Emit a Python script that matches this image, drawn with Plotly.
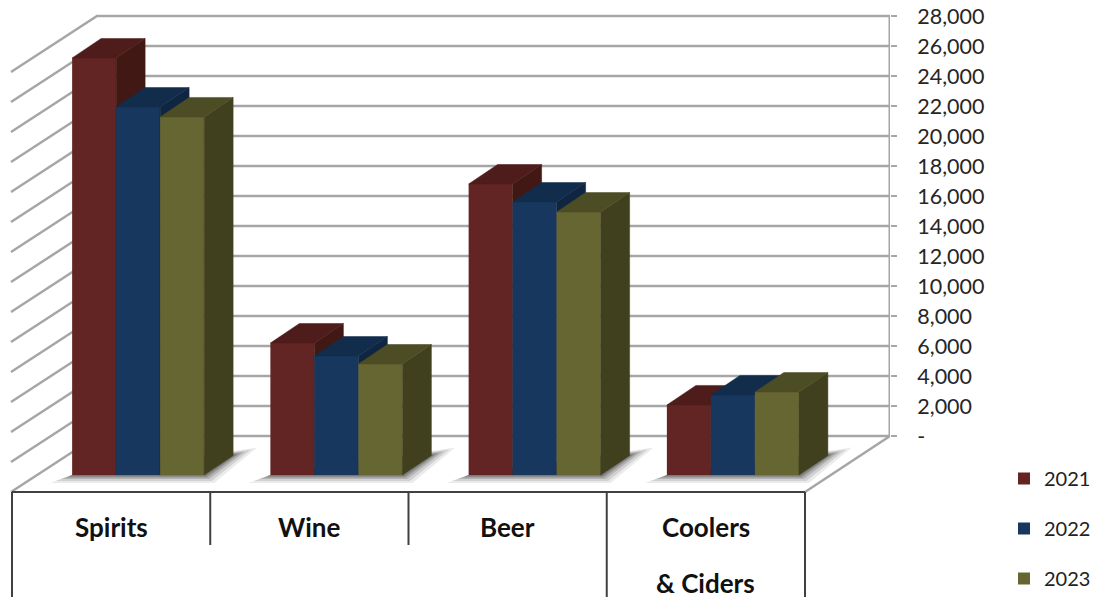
import plotly.graph_objects as go

# ---- data ----
categories = ["Spirits", "Wine", "Beer", "Coolers"]
category_line2 = ["", "", "", "& Ciders"]
series_names = ["2021", "2022", "2023"]
values_2021 = [27800, 8800, 19400, 4670]
values_2022 = [24530, 7930, 18200, 5330]
values_2023 = [23870, 7400, 17530, 5530]
tick_values = list(range(0, 28001, 2000))
tick_labels = ["-"] + [f"{v:,}" for v in tick_values[1:]]

front_colors = ["#632523", "#17375E", "#666633"]
side_colors = ["#421814", "#0F2541", "#40401F"]
top_colors = ["#4E1C1A", "#122C4C", "#4C4C25"]

# ---- geometry of the oblique projection (pixels per unit) ----
W, H = 1096, 598
PX_X = 198.25          # pixels per category
PX_Y = 15 / 1000       # pixels per value unit
X0_PX, WALL_PX, Y0_PX = 12, 890, 436


def dxu(p):
    return p / PX_X


def dyu(p):
    return p / PX_Y


x_range = [-X0_PX / PX_X, (WALL_PX - X0_PX) / PX_X]
y_range = [-(H - Y0_PX) / PX_Y, Y0_PX / PX_Y]

wall_dx, wall_dy = dxu(85), dyu(56)
floor_front = -dyu(56)
table_bottom = -dyu(161)
sep_bottom = -dyu(109)
bar_shift, bar_base = dxu(27), -dyu(39)
bar_w = dxu(44)
depth_x, depth_y = dxu(29), dyu(19.5)
n_cat = len(categories)

fig = go.Figure()
grid = dict(color="#A6A6A6", width=2.5)


def poly(points):
    xs, ys = [], []
    for pts in points:
        xs += [p[0] for p in pts] + [pts[0][0], None]
        ys += [p[1] for p in pts] + [pts[0][1], None]
    return xs, ys


def line(xs, ys, ln, xa="x", ya="y"):
    fig.add_trace(go.Scatter(x=xs, y=ys, mode="lines", line=ln, xaxis=xa, yaxis=ya,
                             showlegend=False, hoverinfo="skip", cliponaxis=False))


# back and side walls
gx, gy = [], []
for v in tick_values:
    gx += [x_range[1], wall_dx, 0 - dxu(1), None]
    gy += [v, v, v - wall_dy, None]
line(gx, gy, grid)
line([x_range[1], x_range[1]], [0, 28000], dict(color="#A6A6A6", width=3))
line([x_range[1], n_cat], [0, floor_front], grid)

# shadows on the floor
for grow, alpha in [(20, 0.10), (15, 0.14), (10, 0.20), (6, 0.26), (3, 0.30)]:
    shapes = []
    for c in range(n_cat):
        xl = c + 0.5 + bar_shift - 1.5 * bar_w
        xr = c + 0.5 + bar_shift + 1.5 * bar_w
        shapes.append([
            (xl - dxu(grow * 1.1), bar_base - dyu(grow * 0.4)),
            (xr + dxu(grow * 0.5), bar_base - dyu(grow * 0.4)),
            (xr + depth_x + dxu(grow * 1.2), bar_base + depth_y + dyu(grow * 0.4)),
            (xr, bar_base + depth_y),
            (xl, bar_base),
        ])
    xs, ys = poly(shapes)
    fig.add_trace(go.Scatter(x=xs, y=ys, mode="lines", fill="toself", line=dict(width=0),
                             fillcolor=f"rgba(60,60,60,{alpha})", showlegend=False,
                             hoverinfo="skip"))

# category table under the floor
table = dict(color="#404040", width=2)
line([0, n_cat], [floor_front, floor_front], table)
for c in range(n_cat + 1):
    bottom = table_bottom if c in (0, 3, 4) else sep_bottom
    line([c, c], [floor_front, bottom], table)

# bars: each series lives on its own overlay so it stacks over the previous one
all_values = [values_2021, values_2022, values_2023]
for s, (name, vals) in enumerate(zip(series_names, all_values)):
    xa, ya = f"x{s + 2}", f"y{s + 2}"
    centers = [c + 0.5 + bar_shift + (s - 1) * bar_w for c in range(n_cat)]
    fig.add_trace(go.Bar(x=centers, y=vals, base=[bar_base] * n_cat, width=bar_w, name=name,
                         marker=dict(color=front_colors[s], line=dict(width=0)),
                         xaxis=xa, yaxis=ya, legendgroup=name,
                         hovertemplate=name + ": %{y:,}<extra></extra>"))
    sides, tops = [], []
    for xc, v in zip(centers, vals):
        xr, xl = xc + bar_w / 2, xc - bar_w / 2
        yt = bar_base + v
        sides.append([(xr, bar_base), (xr + depth_x, bar_base + depth_y),
                      (xr + depth_x, yt + depth_y), (xr, yt)])
        tops.append([(xl, yt), (xr, yt), (xr + depth_x, yt + depth_y), (xl + depth_x, yt + depth_y)])
    for pts, col in ((sides, side_colors[s]), (tops, top_colors[s])):
        xs, ys = poly(pts)
        fig.add_trace(go.Scatter(x=xs, y=ys, mode="lines", fill="toself", fillcolor=col,
                                 line=dict(width=0.5, color=col), xaxis=xa, yaxis=ya,
                                 showlegend=False, hoverinfo="skip"))

# category labels
label_font = dict(family="Lato", size=26, color="#111111", weight="bold")
line1_y, line2_y = -dyu(91), -dyu(147)
for c, (a, b) in enumerate(zip(categories, category_line2)):
    fig.add_annotation(x=c + 0.5, y=line1_y, text=a, showarrow=False, font=label_font)
    if b:
        fig.add_annotation(x=c + 0.5, y=line2_y, text=b, showarrow=False, font=label_font)

fig.update_layout(
    width=W, height=H, margin=dict(l=0, r=0, t=0, b=0, autoexpand=False),
    paper_bgcolor="white", plot_bgcolor="white", barmode="overlay",
    showlegend=True,
    legend=dict(x=1004 / W, y=(H - 459) / H, xanchor="left", yanchor="top",
                font=dict(family="Lato", size=20, color="#222222"),
                tracegroupgap=21, bgcolor="rgba(0,0,0,0)", borderwidth=0),
    xaxis=dict(domain=[0, WALL_PX / W], range=x_range, visible=False, fixedrange=True),
    yaxis=dict(range=y_range, side="right", tickmode="array", tickvals=tick_values,
               ticktext=tick_labels, ticks="outside", ticklen=6, tickwidth=2,
               tickcolor="#A6A6A6", showgrid=False, zeroline=False, showline=False,
               ticklabelstandoff=16, fixedrange=True,
               tickfont=dict(family="Lato", size=21.5, color="#262626")),
)
for i in (2, 3, 4):
    fig.update_layout({
        f"xaxis{i}": dict(overlaying="x", matches="x", visible=False),
        f"yaxis{i}": dict(overlaying="y", matches="y", visible=False),
    })

fig.write_html("out.html", config={"displayModeBar": False},
               post_script="document.body.style.margin='0';")
